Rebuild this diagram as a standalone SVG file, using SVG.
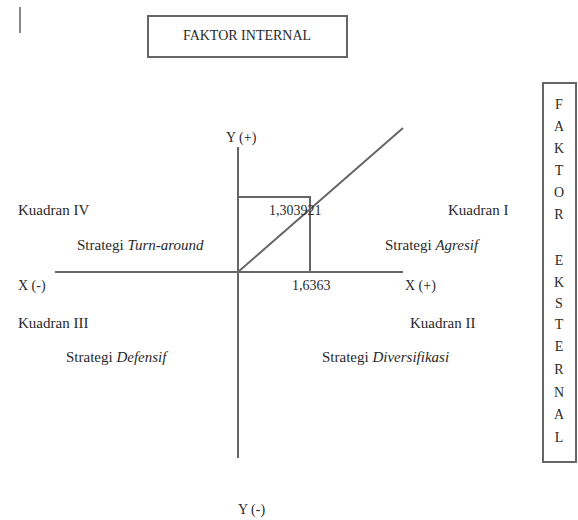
<svg xmlns="http://www.w3.org/2000/svg" width="578" height="520" viewBox="0 0 578 520">
<style>
.t{font-family:"Liberation Serif","Times New Roman",serif;font-size:14px;fill:#2a2a2a}
.q{font-size:15px}
.i{font-style:italic}
.ln{stroke:#666;stroke-width:2;fill:none}
.box{stroke:#666;stroke-width:2;fill:#fff}
.v{text-anchor:middle}
</style>
<rect width="578" height="520" fill="#fff"/>
<line x1="20" y1="7" x2="20" y2="33" stroke="#888" stroke-width="2"/>
<g id="faktor-internal">
<rect class="box" x="148" y="16" width="199" height="41"/>
<text class="t v" x="247" y="40">FAKTOR INTERNAL</text>
</g>
<g id="faktor-eksternal">
<rect class="box" x="543" y="83" width="33" height="379"/>
<text class="t v" x="559" y="109">F</text>
<text class="t v" x="559" y="131">A</text>
<text class="t v" x="559" y="153">K</text>
<text class="t v" x="559" y="175">T</text>
<text class="t v" x="559" y="197">O</text>
<text class="t v" x="559" y="219">R</text>
<text class="t v" x="559" y="265">E</text>
<text class="t v" x="559" y="287">K</text>
<text class="t v" x="559" y="308">S</text>
<text class="t v" x="559" y="329">T</text>
<text class="t v" x="559" y="351">E</text>
<text class="t v" x="559" y="374">R</text>
<text class="t v" x="559" y="397">N</text>
<text class="t v" x="559" y="419">A</text>
<text class="t v" x="559" y="442">L</text>
</g>
<g id="connectors">
<line class="ln" x1="238" y1="147" x2="238" y2="458"/>
<line class="ln" x1="55" y1="272" x2="403" y2="272"/>
<line class="ln" x1="238" y1="272" x2="403" y2="128"/>
<polyline class="ln" points="239,197 310,197 310,272"/>
</g>
<g id="labels">
<text class="t" x="226" y="142">Y (+)</text>
<text class="t" x="238" y="514">Y (-)</text>
<text class="t" x="18" y="290">X (-)</text>
<text class="t" x="405" y="290">X (+)</text>
<text class="t" x="269" y="215">1,303921</text>
<text class="t" x="292" y="290">1,6363</text>
</g>
<g id="kuadran-iv">
<text class="t q" x="18" y="215">Kuadran IV</text>
<text class="t q" x="77" y="250">Strategi <tspan class="i">Turn-around</tspan></text>
</g>
<g id="kuadran-i">
<text class="t q" x="448" y="215">Kuadran I</text>
<text class="t q" x="385" y="250">Strategi <tspan class="i">Agresif</tspan></text>
</g>
<g id="kuadran-iii">
<text class="t q" x="18" y="328">Kuadran III</text>
<text class="t q" x="66" y="362">Strategi <tspan class="i">Defensif</tspan></text>
</g>
<g id="kuadran-ii">
<text class="t q" x="410" y="328">Kuadran II</text>
<text class="t q" x="322" y="362">Strategi <tspan class="i">Diversifikasi</tspan></text>
</g>
</svg>
